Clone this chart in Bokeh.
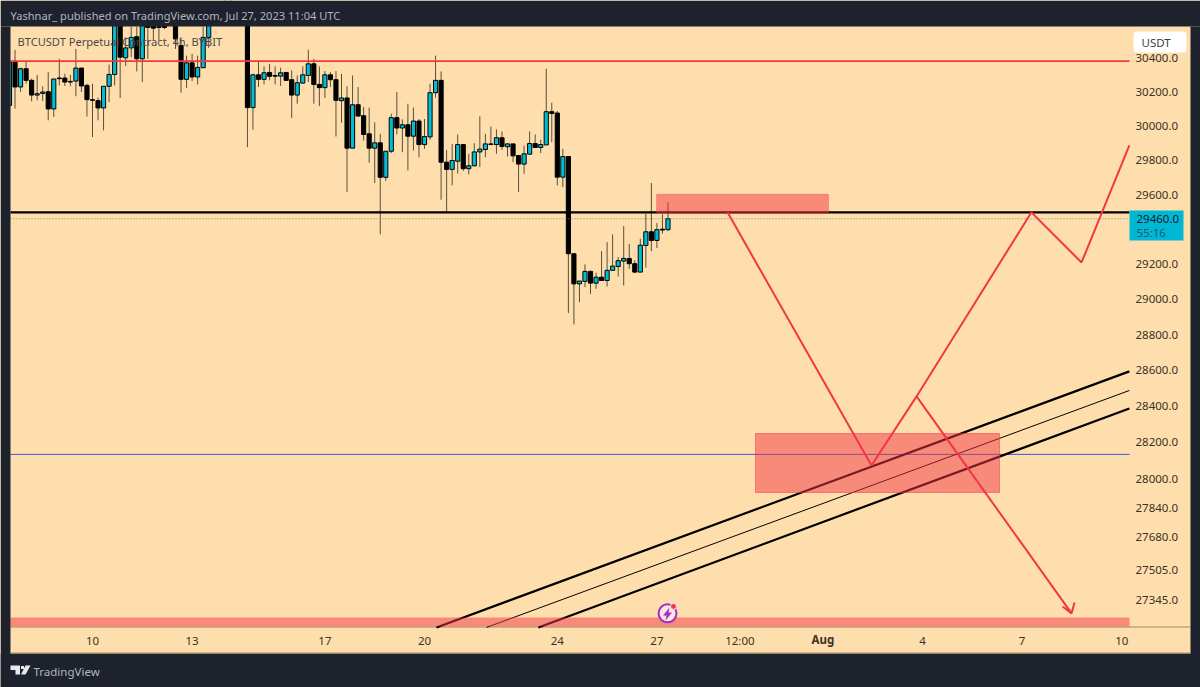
from bokeh.embed import file_html
from bokeh.resources import INLINE
from bokeh.plotting import figure
from bokeh.models import (ColumnDataSource, FixedTicker, NumeralTickFormatter, Label,
                          BoxAnnotation, PolyAnnotation)

# 4h candles, last one Jul 27 08:00 (x axis is day-of-July; Aug 1 = 32)
opens = [30122,30384,30231,30339,30270,30183,30193,30203,30101,30284,
         30284,30264,30266,30343,30240,30156,30150,30107,30235,30305,
         30640,30404,30463,30530,30398,30595,30595,30590,30595,30640,
         30614,30477,30276,30374,30290,30345,30526,30660,30640,30700,
         30740,30700,30680,30720,30109,30303,30276,30317,30299,30295,
         30317,30274,30183,30254,30299,30368,30246,30227,30303,30274,
         30150,30166,29871,30126,30061,29955,29871,29902,29701,29853,
         30050,29989,30008,29941,30030,29892,29937,30197,30270,29789,
         29747,29795,29892,29751,29768,29849,29863,29896,29892,29932,
         29879,29896,29828,29778,29836,29898,29875,29890,30085,30077,
         29702,29822,29260,29088,29102,29159,29092,29126,29107,29165,
         29187,29218,29233,29203,29155,29307,29386,29336,29401,29398]
highs = [30388,30451,30345,30384,30280,30303,30235,30319,30278,30398,
         30309,30303,30457,30343,30250,30250,30168,30235,30364,30660,
         30680,30526,30589,30589,30660,30650,30640,30630,30630,30660,
         30650,30526,30417,30427,30417,30589,30650,30700,30720,30760,
         30770,30740,30740,30740,30309,30388,30353,30368,30353,30345,
         30317,30329,30299,30353,30453,30398,30353,30325,30319,30325,
         30309,30235,30299,30231,30113,30109,30022,29955,29853,30073,
         30201,30040,30132,30109,30042,30042,30250,30417,30323,29861,
         29896,29951,29896,29838,29900,30058,29955,29998,29981,29969,
         29900,29896,29832,29886,29969,29951,29920,30339,30138,30089,
         29867,29822,29260,29104,29199,29165,29151,29275,29327,29371,
         29241,29419,29317,29222,29346,29490,29668,29436,29486,29557]
lows = [30109,30103,30201,30250,30146,30152,30148,30034,30054,30240,
        30237,30235,30176,30201,30057,29936,30034,29975,30142,30240,
        30166,30355,30408,30323,30260,30398,30506,30506,30575,30600,
        30457,30197,30225,30266,30246,30345,30463,30620,30620,30680,
        30680,30650,30650,29877,29979,30231,30246,30270,30246,30237,
        30266,30048,30132,30250,30260,30132,30118,30166,30231,29939,
        30020,29615,29871,30059,29916,29786,29668,29371,29679,29842,
        29951,29847,29741,29857,29818,29867,29920,30168,29571,29496,
        29654,29722,29737,29718,29764,29760,29818,29892,29838,29861,
        29822,29789,29615,29722,29836,29873,29842,29890,29906,29654,
        29644,28922,28858,28984,29069,29031,29060,29107,29073,29165,
        29130,29079,29174,29149,29155,29180,29275,29292,29375,29390]
closes = [30378,30231,30339,30270,30183,30191,30201,30101,30278,30280,
          30260,30260,30343,30237,30156,30152,30107,30235,30305,30624,
          30408,30463,30526,30398,30614,30585,30581,30585,30585,30630,
          30516,30276,30374,30290,30347,30526,30614,30640,30700,30740,
          30700,30680,30720,30109,30303,30276,30315,30294,30295,30315,
          30270,30183,30256,30303,30368,30246,30227,30303,30274,30152,
          30166,29871,30126,30059,29951,29871,29902,29701,29853,30050,
          29989,30008,29941,30030,29892,29939,30197,30270,29789,29747,
          29799,29892,29751,29768,29849,29865,29896,29892,29932,29881,
          29896,29826,29778,29838,29898,29875,29892,30085,30075,29702,
          29822,29260,29088,29104,29159,29092,29126,29107,29165,29189,
          29220,29233,29203,29155,29309,29386,29336,29398,29396,29461]

x_ticks = [10, 13, 17, 20, 24, 27, 29.5, 32, 35, 38, 41]
x_labels = ["10", "13", "17", "20", "24", "27", "12:00", "", "4", "7", "10"]
aug_tick = 32
y_ticks = [30400, 30200, 30000, 29800, 29600, 29200, 29000, 28800, 28600, 28400,
           28200, 28000, 27840, 27680, 27505, 27345]

# Drawings, in days and prices
chart_left, chart_right, chart_floor = 7.53, 41.235, 27196
resistance_level = 30384
black_level = 29498
last_price = 29461
blue_level = 28133
zone_top = dict(left=26.99, right=32.17, bottom=29492, top=29602)
zone_mid = dict(left=29.97, right=37.32, bottom=27924, top=28248)
zone_low = dict(bottom=27201, top=27249)
zig_x = [33.464, 34.82, 38.28, 39.79, 41.23]
zig_y = [28072, 28454, 29498, 29210, 29887]
drop_x = [29.127, 33.464]
drop_y = [29498, 28072]
arrow_x = [34.82, 39.49]
arrow_y = [28454, 27271]
head_x = [39.22, 39.49, 39.58]
head_y = [27308, 27271, 27329]
upper_x = [20.36, 41.23]
upper_y = [27196, 28594]
mid_x = [21.87, 41.23]
mid_y = [27196, 28487]
lower_x = [23.43, 41.23]
lower_y = [27196, 28387]
icon_pos = (27.32, 27271)
dot_pos = (27.5, 27308)

DARK, PEACH, TEAL, RED = "#1e222d", "#ffdead", "#00bcd4", "#f23645"
TXT = "Noto Sans"

n = len(opens)
days = [27 + 8 / 24 - (n - 1 - i) * 4 / 24 for i in range(n)]
src = ColumnDataSource(dict(
    x=days, high=highs, low=lows,
    top=[max(o, c) for o, c in zip(opens, closes)],
    bottom=[min(o, c) for o, c in zip(opens, closes)],
    color=[TEAL if c >= o else "#000000" for o, c in zip(opens, closes)],
))

p = figure(width=1200, height=687, output_backend="svg", toolbar_location=None,
           x_range=(7.229, 43.373), y_range=(26878, 30747), y_axis_type="log",
           y_axis_location="right", min_border=0,
           background_fill_color=PEACH, border_fill_color=DARK, outline_line_color=None)
p.grid.visible = False

def canvas_box(l, t, r, b, color, level="annotation", **kw):
    p.add_layout(BoxAnnotation(left=l, right=r, top=t, bottom=b,
                               left_units="canvas", right_units="canvas",
                               top_units="canvas", bottom_units="canvas",
                               fill_color=color, fill_alpha=1, line_color=None, level=level, **kw))

# axes sit at the edge of the price/time panes
ax = p.xaxis[0]
ax.fixed_location = chart_floor
ax.ticker = FixedTicker(ticks=x_ticks)
ax.major_label_overrides = {t: l for t, l in zip(x_ticks, x_labels)}
ay = p.yaxis[0]
ay.fixed_location = chart_right
ay.ticker = FixedTicker(ticks=y_ticks)
ay.formatter = NumeralTickFormatter(format="0.0")
for a in (ax, ay):
    a.axis_line_color = None
    a.major_tick_line_color = None
    a.minor_tick_line_color = None
    a.major_tick_out = 0
    a.major_tick_in = 0
    a.major_label_standoff = 6
    a.major_label_text_font = TXT
    a.major_label_text_font_size = "11.5px"
    a.major_label_text_color = "#3a3226"

canvas_box(10, 626, 1190, 627, "#a08a66", level="underlay")

# candles
p.segment("x", "high", "x", "low", source=src, line_color="#5a4e3a", line_width=1)
p.vbar("x", 0.125, "top", "bottom", source=src, fill_color="color", line_color="#000000", line_width=1)

# levels and trend lines
p.line([chart_left, chart_right], [resistance_level] * 2, line_color="#f0383f", line_width=1.6)
p.line([chart_left, chart_right], [black_level] * 2, line_color="#000000", line_width=2.2)
p.line([chart_left, chart_right], [last_price] * 2, line_color="#7f8f7a", line_width=1, line_dash="1 2")
p.line([chart_left, chart_right], [blue_level] * 2, line_color="#3a5bd9", line_width=1)
p.line(upper_x, upper_y, line_color="#000000", line_width=2.2)
p.line(mid_x, mid_y, line_color="#000000", line_width=1)
p.line(lower_x, lower_y, line_color="#000000", line_width=2.2)

# zones
p.quad(left=[zone_top["left"]], right=[zone_top["right"]], bottom=[zone_top["bottom"]], top=[zone_top["top"]],
       fill_color=RED, fill_alpha=0.5, line_color=RED, line_alpha=0.3, line_width=1)
p.quad(left=[zone_mid["left"]], right=[zone_mid["right"]], bottom=[zone_mid["bottom"]], top=[zone_mid["top"]],
       fill_color=RED, fill_alpha=0.5, line_color=RED, line_alpha=0.5, line_width=1)
p.quad(left=[chart_left], right=[chart_right], bottom=[zone_low["bottom"]], top=[zone_low["top"]],
       fill_color=RED, fill_alpha=0.5, line_color=None)

# red path
for xs, ys in ((drop_x, drop_y), (zig_x, zig_y), (arrow_x, arrow_y), (head_x, head_y)):
    p.line(xs, ys, line_color=RED, line_width=2)

# alert icon
p.scatter([icon_pos[0]], [icon_pos[1]], size=18, marker="circle", fill_color="#fbe6e0",
          line_color="#a02fc4", line_width=2)
p.scatter([dot_pos[0]], [dot_pos[1]], size=6, marker="circle", fill_color="#f23645", line_color="#f8f0e8", line_width=1)

def canvas_poly(xs, ys, color):
    p.add_layout(PolyAnnotation(xs=xs, ys=ys, xs_units="canvas", ys_units="canvas",
                                fill_color=color, fill_alpha=1, line_color=None))

canvas_poly([669, 662.5, 666, 665, 671.5, 668], [607, 615, 615, 620, 612, 612], "#a02fc4")

# dark surround, over everything that runs past the panes
canvas_box(0, 0, 1200, 26, DARK)
canvas_box(0, 26, 10, 687, DARK)
canvas_box(1190, 26, 1200, 687, DARK)
canvas_box(0, 653, 1200, 687, DARK)
canvas_box(10, 652, 1190, 653, "#a08a66")

def text(x, y, s, color, size, style="normal", align="left"):
    p.add_layout(Label(x=x, y=y, x_units="canvas", y_units="canvas", text=s,
                       text_color=color, text_font=TXT, text_font_size=size, text_font_style=style,
                       text_align=align, text_baseline="middle"))

# price tag, currency button
canvas_box(1129, 210, 1183, 240, "#00b8d4")
canvas_box(1133, 31, 1186, 52, "#ffffff", border_radius=4)
text(1136, 218, "29460.0", "#14202c", "11.5px")
text(1136, 232, "55:16", "#1a5a70", "11.5px")
text(1141, 42, "USDT", "#3a3f4a", "11.5px")

# x label in bold
p.add_layout(Label(x=aug_tick, y=639, x_units="data", y_units="canvas", text="Aug",
                   text_color="#3a3226", text_font=TXT, text_font_size="11.5px",
                   text_font_style="bold", text_align="center", text_baseline="middle"))

# header and footer
text(10, 15, "Yashnar_ published on TradingView.com, Jul 27, 2023 11:04 UTC", "#b2b5be", "11.1px")
text(17, 41, "BTCUSDT Perpetual Contract, 4h, BYBIT", "#4a4a4a", "11.1px")
text(33, 671, "TradingView", "#b2b5be", "11.5px")
canvas_poly([10, 19.5, 19.5, 15, 15, 10], [665, 665, 674, 674, 669.5, 669.5], "#e8e9ec")
canvas_poly([25, 30, 25, 20.5], [665, 665, 674, 674], "#e8e9ec")
canvas_poly([20.5, 23.5, 23.5, 20.5], [665.5, 665.5, 668.5, 668.5], "#e8e9ec")

open("out.html", "w").write(file_html(p, INLINE))
